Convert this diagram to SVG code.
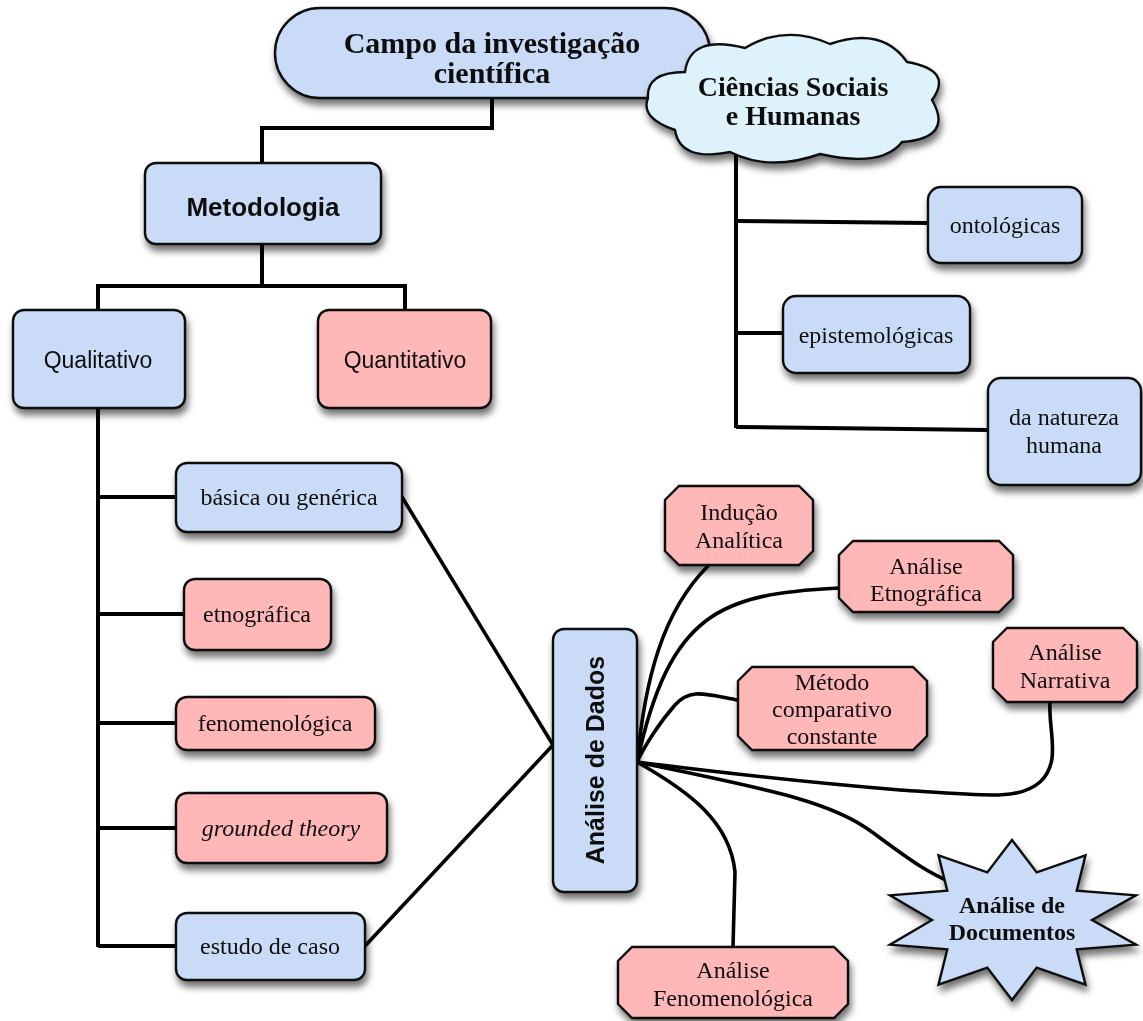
<svg xmlns="http://www.w3.org/2000/svg" width="1143" height="1021" viewBox="0 0 1143 1021">
<defs>
<filter id="sh" x="-20%" y="-20%" width="140%" height="150%">
<feDropShadow dx="2" dy="6" stdDeviation="3.5" flood-color="#000" flood-opacity="0.55"/>
</filter>
</defs>
<style>
.blue{fill:#c9dbf7;stroke:#111;stroke-width:2.4}
.pink{fill:#ffb7b7;stroke:#111;stroke-width:2.4}
.cloud{fill:#def2fb;stroke:#111;stroke-width:2.4}
.ln{fill:none;stroke:#000;stroke-width:4;stroke-linejoin:miter}
.cv{fill:none;stroke:#000;stroke-width:3.6;stroke-linecap:round}
.sr{font-family:"Liberation Serif","DejaVu Serif",serif;font-size:24px;fill:#111;text-anchor:middle}
.sb{font-family:"Liberation Serif","DejaVu Serif",serif;font-weight:bold;fill:#111;text-anchor:middle}
.ss{font-family:"Liberation Sans",Arial,sans-serif;font-size:23px;fill:#111;text-anchor:middle}
.ssb{font-family:"Liberation Sans",Arial,sans-serif;font-weight:bold;fill:#111;text-anchor:middle}
g.n{filter:url(#sh)}
</style>
<rect width="1143" height="1021" fill="#fff"/>
<g id="connectors">
<polyline class="ln" points="492,98 492,128 262,128 262,163"/>
<polyline class="ln" points="262,244 262,286 98,286 98,311"/>
<polyline class="ln" points="262,286 405,286 405,311"/>
<line class="ln" x1="98" y1="408" x2="98" y2="947"/>
<line class="ln" x1="98" y1="497" x2="176" y2="497"/>
<line class="ln" x1="98" y1="614" x2="184" y2="614"/>
<line class="ln" x1="98" y1="723" x2="176" y2="723"/>
<line class="ln" x1="98" y1="828" x2="176" y2="828"/>
<polyline class="ln" points="98,946 176,946"/>
<line class="ln" x1="736" y1="150" x2="736" y2="428"/>
<line class="ln" x1="736" y1="221" x2="928" y2="223"/>
<line class="ln" x1="736" y1="333" x2="783" y2="333"/>
<line class="ln" x1="736" y1="427" x2="988" y2="430"/>
<line class="cv" x1="402" y1="497" x2="553" y2="745"/>
<line class="cv" x1="365" y1="946" x2="553" y2="745"/>
<path class="cv" d="M708,566 C662,612 645,680 637,762"/>
<path class="cv" d="M839,588 C720,594 670,612 637,762"/>
<path class="cv" d="M738,700 C705,694 690,688 675,705 C660,722 645,745 637,762"/>
<path class="cv" d="M1050,702 C1048,730 1062,762 1040,782 C1020,800 990,796 900,790 C800,782 700,770 637,762"/>
<path class="cv" d="M637,762 C760,788 830,800 872,832 C905,856 925,872 955,884"/>
<path class="cv" d="M637,762 C690,792 730,822 735,872 L733,947"/>
</g>
<g id="campo" class="n">
<rect class="blue" x="275" y="8" width="435" height="90" rx="45"/>
<text class="sb" font-size="30" x="492" y="53">Campo da investigação</text>
<text class="sb" font-size="30" x="492" y="83">científica</text>
</g>
<g id="ciencias" class="n">
<path class="cloud" d="M685,72 Q690,34 745,48 Q785,24 830,44 Q882,26 907,62 Q954,70 932,100 Q954,138 902,142 Q882,168 820,154 Q770,172 730,152 Q680,162 675,130 Q640,118 648,98 Q646,72 685,72 Z"/>
<text class="sb" font-size="28" x="793" y="96">Ciências Sociais</text>
<text class="sb" font-size="28" x="793" y="125">e Humanas</text>
</g>
<g id="metodologia" class="n">
<rect class="blue" x="145" y="163" width="236" height="81" rx="11"/>
<text class="ssb" font-size="26" x="263" y="216">Metodologia</text>
</g>
<g id="qualitativo" class="n">
<rect class="blue" x="13" y="310" width="172" height="98" rx="11"/>
<text class="ss" x="98" y="368">Qualitativo</text>
</g>
<g id="quantitativo" class="n">
<rect class="pink" x="318" y="310" width="173" height="98" rx="11"/>
<text class="ss" x="405" y="368">Quantitativo</text>
</g>
<g id="basica" class="n">
<rect class="blue" x="176" y="463" width="226" height="69" rx="11"/>
<text class="sr" x="289" y="505">básica ou genérica</text>
</g>
<g id="etnografica" class="n">
<rect class="pink" x="184" y="579" width="147" height="71" rx="11"/>
<text class="sr" x="257" y="622">etnográfica</text>
</g>
<g id="fenomenologica" class="n">
<rect class="pink" x="176" y="697" width="199" height="53" rx="11"/>
<text class="sr" x="275" y="731">fenomenológica</text>
</g>
<g id="grounded" class="n">
<rect class="pink" x="176" y="793" width="211" height="70" rx="11"/>
<text class="sr" font-style="italic" x="281" y="836">grounded theory</text>
</g>
<g id="estudo" class="n">
<rect class="blue" x="176" y="913" width="189" height="67" rx="11"/>
<text class="sr" x="270" y="954">estudo de caso</text>
</g>
<g id="analise-dados" class="n">
<rect class="blue" x="553" y="629" width="84" height="263" rx="11"/>
<text class="ssb" font-size="25" transform="translate(604,760) rotate(-90)">Análise de Dados</text>
</g>
<g id="ontologicas" class="n">
<rect class="blue" x="928" y="187" width="154" height="76" rx="13"/>
<text class="sr" x="1005" y="233">ontológicas</text>
</g>
<g id="epistemologicas" class="n">
<rect class="blue" x="783" y="296" width="187" height="77" rx="13"/>
<text class="sr" x="876" y="343">epistemológicas</text>
</g>
<g id="natureza" class="n">
<rect class="blue" x="988" y="378" width="153" height="107" rx="13"/>
<text class="sr" x="1064" y="425">da natureza</text>
<text class="sr" x="1064" y="453">humana</text>
</g>
<g id="inducao" class="n">
<path class="pink" d="M679,486 L799,486 L813,500 L813,551 L799,565 L679,565 L665,551 L665,500 Z"/>
<text class="sr" x="739" y="520">Indução</text>
<text class="sr" x="739" y="548">Analítica</text>
</g>
<g id="etnografica-an" class="n">
<path class="pink" d="M853,541 L999,541 L1013,555 L1013,598 L999,612 L853,612 L839,598 L839,555 Z"/>
<text class="sr" x="926" y="574">Análise</text>
<text class="sr" x="926" y="601">Etnográfica</text>
</g>
<g id="metodo" class="n">
<path class="pink" d="M752,667 L913,667 L927,681 L927,736 L913,750 L752,750 L738,736 L738,681 Z"/>
<text class="sr" x="832" y="690">Método</text>
<text class="sr" x="832" y="717">comparativo</text>
<text class="sr" x="832" y="744">constante</text>
</g>
<g id="narrativa" class="n">
<path class="pink" d="M1007,628 L1123,628 L1137,642 L1137,688 L1123,702 L1007,702 L993,688 L993,642 Z"/>
<text class="sr" x="1065" y="660">Análise</text>
<text class="sr" x="1065" y="688">Narrativa</text>
</g>
<g id="fenomenologica-an" class="n">
<path class="pink" d="M632,947 L834,947 L848,961 L848,1004 L834,1018 L632,1018 L618,1004 L618,961 Z"/>
<text class="sr" x="733" y="978">Análise</text>
<text class="sr" x="733" y="1006">Fenomenológica</text>
</g>
<g id="documentos" class="n">
<polygon class="blue" points="1012,840 987.3,872.4 938.5,855.3 947.3,890.6 890,895.3 932,920 890,944.7 947.3,949.4 938.5,984.7 987.3,967.6 1012,1000 1036.7,967.6 1085.5,984.7 1076.7,949.4 1136,944.7 1092,920 1136,895.3 1076.7,890.6 1085.5,855.3 1036.7,872.4"/>
<text class="sb" font-size="24" x="1012" y="913">Análise de</text>
<text class="sb" font-size="24" x="1012" y="940">Documentos</text>
</g>
</svg>
